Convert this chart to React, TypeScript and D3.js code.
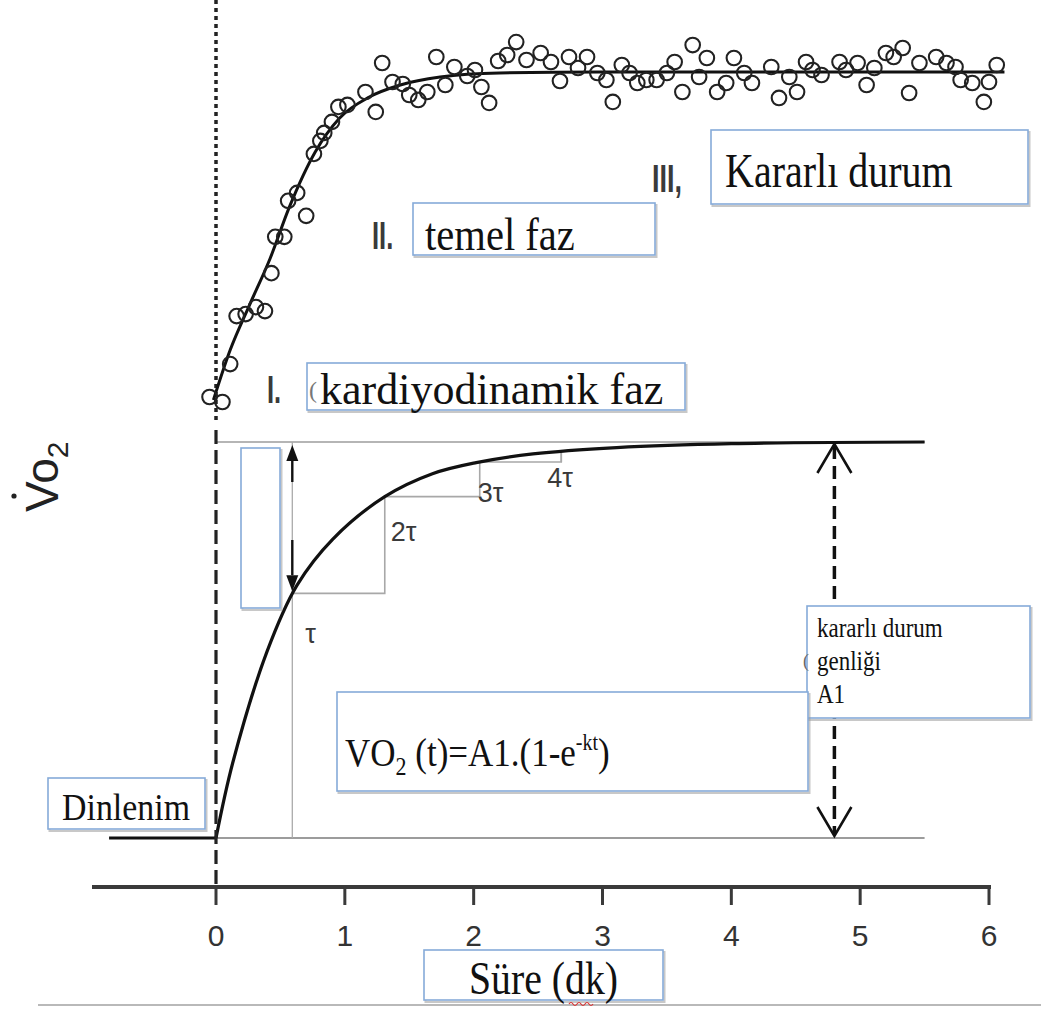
import React from "react";
import * as d3 from "d3";

// ---- data (time in minutes, VO2 as fraction of steady-state amplitude) ----
const timeTicks = [0, 1, 2, 3, 4, 5, 6];

const obsTime = [
  -0.05, 0.05, 0.11, 0.16, 0.23, 0.31, 0.38, 0.43, 0.46, 0.53, 0.56, 0.63, 0.7, 0.76, 0.81, 0.84, 0.9, 0.95,
  1.02, 1.16, 1.24, 1.29, 1.37, 1.45, 1.5, 1.57, 1.64, 1.71, 1.78, 1.85, 1.95, 2.01, 2.06, 2.12, 2.19, 2.26,
  2.33, 2.41, 2.52, 2.6, 2.67, 2.74, 2.81, 2.88, 2.96, 3.03, 3.08, 3.15, 3.21, 3.27, 3.34, 3.42, 3.5, 3.56,
  3.62, 3.7, 3.75, 3.81, 3.89, 3.96, 4.02, 4.1, 4.16, 4.31, 4.37, 4.45, 4.51, 4.58, 4.63, 4.7, 4.84, 4.89,
  4.98, 5.05, 5.11, 5.2, 5.26, 5.33, 5.38, 5.46, 5.59, 5.67, 5.74, 5.78, 5.87, 5.96, 6.0, 6.06,
];
const obsVO2 = [
  0.024, 0.009, 0.123, 0.267, 0.273, 0.294, 0.282, 0.396, 0.505, 0.505, 0.613, 0.637, 0.568, 0.754, 0.793, 0.817, 0.85, 0.895,
  0.901, 0.94, 0.88, 1.027, 0.97, 0.964, 0.931, 0.916, 0.94, 1.045, 0.961, 1.015, 0.988, 1.006, 0.955, 0.907, 1.033, 1.051,
  1.09, 1.036, 1.057, 1.03, 0.973, 1.045, 1.012, 1.045, 0.997, 0.976, 0.91, 1.021, 0.997, 0.967, 0.976, 0.976, 0.997, 1.03,
  0.94, 1.081, 0.985, 1.042, 0.94, 0.967, 1.042, 0.997, 0.967, 1.015, 0.922, 0.985, 0.94, 1.03, 1.006, 0.991, 1.03, 1.006,
  1.027, 0.961, 1.012, 1.057, 1.045, 1.072, 0.937, 1.027, 1.045, 1.027, 1.015, 0.976, 0.967, 0.91, 0.97, 1.021,
];

const fitTime = [-0.02, 0.11, 0.26, 0.42, 0.57, 0.77, 0.96, 1.19, 1.43, 1.74, 2.2, 2.98, 6.12];
const fitVO2 = [0.015, 0.165, 0.3, 0.44, 0.595, 0.76, 0.862, 0.925, 0.961, 0.985, 0.997, 1.0, 1.0];

const modelTime = [0, 0.13, 0.395, 0.628, 0.907, 1.31, 1.68, 2.02, 2.46, 3.11, 4.0, 5.5];
const modelFrac = [0, 0.19, 0.47, 0.638, 0.755, 0.862, 0.92, 0.948, 0.97, 0.986, 0.996, 1.0];

const tauTimes = [0.6, 1.31, 2.047, 2.68];
const tauLabels = ["τ", "2τ", "3τ", "4τ"];

const restStart = -0.83;
const modelEnd = 5.5;
const amplitudeArrowTime = 4.8;

const phaseNumerals = ["I.", "II.", "III,"];
const phaseLabels = ["kardiyodinamik faz", "temel faz", "Kararlı durum"];
const amplitudeLines = ["kararlı durum", "genliği", "A1"];
const restLabel = "Dinlenim";
const xTitle = "Süre (dk)";

const SERIF = "'Liberation Serif', 'Times New Roman', serif";
const SANS = "'Liberation Sans', Arial, Helvetica, sans-serif";

function Box({ x, y, w, h }: { x: number; y: number; w: number; h: number }) {
  return (
    <g>
      <rect x={x + 1.5} y={y + 2} width={w} height={h} fill="none" stroke="#9a9a9a" strokeWidth={2} opacity={0.55} />
      <rect x={x} y={y} width={w} height={h} fill="#fff" stroke="#86abd9" strokeWidth={1.6} />
    </g>
  );
}

function SText({ x, y, size, sx = 1, sy = 1, family = SERIF, fill = "#111", anchor = "start", weight = "normal", len, children }: any) {
  return (
    <text
      transform={`translate(${x},${y}) scale(${sx},${sy})`}
      fontFamily={family}
      fontSize={size}
      fontWeight={weight}
      fill={fill}
      textAnchor={anchor}
      textLength={len}
      lengthAdjust={len ? "spacingAndGlyphs" : undefined}
    >
      {children}
    </text>
  );
}

export default function App() {
  const W = 1041;
  const H = 1010;
  const x = d3.scaleLinear().domain([0, 6]).range([216, 989]);
  const yTop = d3.scaleLinear().domain([0, 1]).range([405, 72]);
  const yMod = d3.scaleLinear().domain([0, 1]).range([838, 442]);
  const axisY = 887;

  const fitLine = d3
    .line<number>()
    .x((_, i) => x(fitTime[i]))
    .y((_, i) => yTop(fitVO2[i]))
    .curve(d3.curveMonotoneX);
  const modelLine = d3
    .line<number>()
    .x((_, i) => x(modelTime[i]))
    .y((_, i) => yMod(modelFrac[i]))
    .curve(d3.curveCatmullRom.alpha(0.5));
  const modelAt = d3.scaleLinear().domain(modelTime).range(modelFrac);

  const stairs: string[] = [];
  for (let i = 0; i < tauTimes.length - 1; i++) {
    const t0 = tauTimes[i];
    const t1 = tauTimes[i + 1];
    stairs.push(`M${x(t0)},${yMod(modelAt(t0))}H${x(t1)}V${yMod(modelAt(t1))}`);
  }
  const tauOffsets = [
    [12, 50],
    [6, 44],
    [-2, 40],
    [-14, 35],
  ];

  const ax = x(amplitudeArrowTime);
  const tauX = x(tauTimes[0]) - 1;

  return (
    <svg width={W} height={H} style={{ position: "absolute", left: 0, top: 0, background: "#fff" }}>
      <rect width={W} height={H} fill="#fff" />

      <line x1={38} x2={W} y1={1005} y2={1005} stroke="#b9b9b9" strokeWidth={2} />

      {/* reference lines of the model panel */}
      <line x1={x(0)} x2={x(modelEnd)} y1={yMod(1)} y2={yMod(1)} stroke="#9c9c9c" strokeWidth={1.6} />
      <line x1={x(0)} x2={x(modelEnd)} y1={yMod(0)} y2={yMod(0)} stroke="#9c9c9c" strokeWidth={1.8} />
      <line x1={x(restStart)} x2={x(0)} y1={yMod(0)} y2={yMod(0)} stroke="#111" strokeWidth={3} />
      <line x1={tauX} x2={tauX} y1={yMod(1)} y2={yMod(0)} stroke="#aaa" strokeWidth={1.3} />
      {stairs.map((d, i) => (
        <path key={i} d={d} fill="none" stroke="#a8a8a8" strokeWidth={1.6} />
      ))}
      <line
        x1={x(tauTimes[3])}
        x2={x(tauTimes[3])}
        y1={yMod(modelAt(tauTimes[2]))}
        y2={yMod(modelAt(tauTimes[3]))}
        stroke="#a8a8a8"
        strokeWidth={1.6}
      />
      <path d={modelLine(modelTime) || ""} fill="none" stroke="#111" strokeWidth={3.2} />

      {tauLabels.map((lab, i) => (
        <SText
          key={lab}
          x={x(tauTimes[i]) + tauOffsets[i][0]}
          y={yMod(modelAt(tauTimes[i])) + tauOffsets[i][1]}
          size={27}
          family={SANS}
          fill="#3a3a3a"
        >
          {lab}
        </SText>
      ))}

      {/* tau double arrow */}
      <line x1={tauX} x2={tauX} y1={458} y2={482} stroke="#111" strokeWidth={2.4} />
      <path d={`M${tauX},${yMod(1) + 3}l-6,16h12z`} fill="#111" />
      <line x1={tauX} x2={tauX} y1={540} y2={575} stroke="#111" strokeWidth={2.4} />
      <path d={`M${tauX},${yMod(modelAt(tauTimes[0])) - 2}l-6,-16h12z`} fill="#111" />

      <Box x={241} y={448} w={39} h={160} />

      {/* amplitude dashed arrow */}
      <line x1={ax} x2={ax} y1={yMod(1) + 4} y2={yMod(0) - 4} stroke="#111" strokeWidth={3.5} strokeDasharray="13,7" />
      <polyline
        points={`${ax - 17},${yMod(1) + 31} ${ax},${yMod(1) + 2} ${ax + 17},${yMod(1) + 31}`}
        fill="none"
        stroke="#111"
        strokeWidth={2.6}
      />
      <polyline
        points={`${ax - 17},${yMod(0) - 31} ${ax},${yMod(0) - 2} ${ax + 17},${yMod(0) - 31}`}
        fill="none"
        stroke="#111"
        strokeWidth={2.6}
      />

      <Box x={807} y={606} w={223} h={112} />
      <text x={803} y={667} fontFamily={SERIF} fontSize={18} fill="#666">(</text>
      {amplitudeLines.map((l, i) => (
        <SText key={l} x={817} y={637 + i * 33} size={23} sy={1.15}>
          {l}
        </SText>
      ))}

      <Box x={337} y={692} w={471} h={99} />
      <text x={345} y={762} fontFamily={SERIF} fontSize={35} fill="#111" transform="translate(0,-110) scale(1,1.15)">
        VO
        <tspan fontSize={22} dy={8}>2</tspan>
        <tspan dy={-8}> (t)=A1.(1-e</tspan>
        <tspan fontSize={20} dy={-14}>-kt</tspan>
        <tspan dy={14}>)</tspan>
      </text>

      <Box x={48} y={778} w={157} h={51} />
      <SText x={62} y={820} size={36} sy={1.08} len={128}>
        {restLabel}
      </SText>

      {/* t = 0 dashed line */}
      <line x1={x(0)} x2={x(0)} y1={0} y2={424} stroke="#222" strokeWidth={3.5} strokeDasharray="4,4" />
      <line x1={x(0)} x2={x(0)} y1={430} y2={886} stroke="#222" strokeWidth={3.2} strokeDasharray="14,6" />

      {/* observed data */}
      <path d={fitLine(fitTime) || ""} fill="none" stroke="#111" strokeWidth={3} />
      {obsTime.map((t, i) => (
        <circle key={i} cx={x(t)} cy={yTop(obsVO2[i])} r={7.3} fill="none" stroke="#222" strokeWidth={2.1} />
      ))}

      {/* phase labels */}
      <Box x={307} y={363} w={378} h={47} />
      <text x={309} y={398} fontFamily={SERIF} fontSize={24} fill="#777">(</text>
      <SText x={320} y={404} size={44}>
        {phaseLabels[0]}
      </SText>
      <SText x={267} y={403} size={30} sx={0.85} sy={1.3} weight="bold" family={SANS} fill="#3a3a3a">
        {phaseNumerals[0]}
      </SText>

      <Box x={413} y={203} w={242} h={52} />
      <SText x={425} y={250} size={40.6} sy={1.15}>
        {phaseLabels[1]}
      </SText>
      <SText x={372} y={249} size={30} sx={0.85} sy={1.3} weight="bold" family={SANS} fill="#3a3a3a">
        {phaseNumerals[1]}
      </SText>

      <Box x={711} y={130} w={317} h={74} />
      <SText x={725} y={187} size={40} sy={1.2}>
        {phaseLabels[2]}
      </SText>
      <SText x={652} y={192} size={30} sx={0.9} sy={1.3} weight="bold" family={SANS} fill="#3a3a3a">
        {phaseNumerals[2]}
      </SText>

      {/* x axis */}
      <line x1={92} x2={991} y1={axisY} y2={axisY} stroke="#3a3a3a" strokeWidth={4} />
      {timeTicks.map((t) => (
        <g key={t}>
          <line x1={x(t)} x2={x(t)} y1={axisY} y2={axisY + 18} stroke="#3a3a3a" strokeWidth={3} />
          <text x={x(t)} y={946} textAnchor="middle" fontFamily={SANS} fontSize={30} fill="#333">
            {t}
          </text>
        </g>
      ))}

      <Box x={424} y={950} w={239} h={50} />
      <SText x={469} y={994} size={40} sy={1.15} len={149}>
        {xTitle}
      </SText>
      <path d="M569,1004 q2,-3 4,0 t4,0 t4,0 t4,0 t4,0 t4,0" fill="none" stroke="#d33" strokeWidth={1.2} />

      {/* y label */}
      <g transform="translate(58,512) rotate(-90)">
        <text x={0} y={0} fontFamily={SANS} fontSize={46} fill="#222">
          Vo
          <tspan fontSize={30} dy={10}>2</tspan>
        </text>
        <circle cx={16} cy={-44} r={2.6} fill="#222" />
      </g>
    </svg>
  );
}
